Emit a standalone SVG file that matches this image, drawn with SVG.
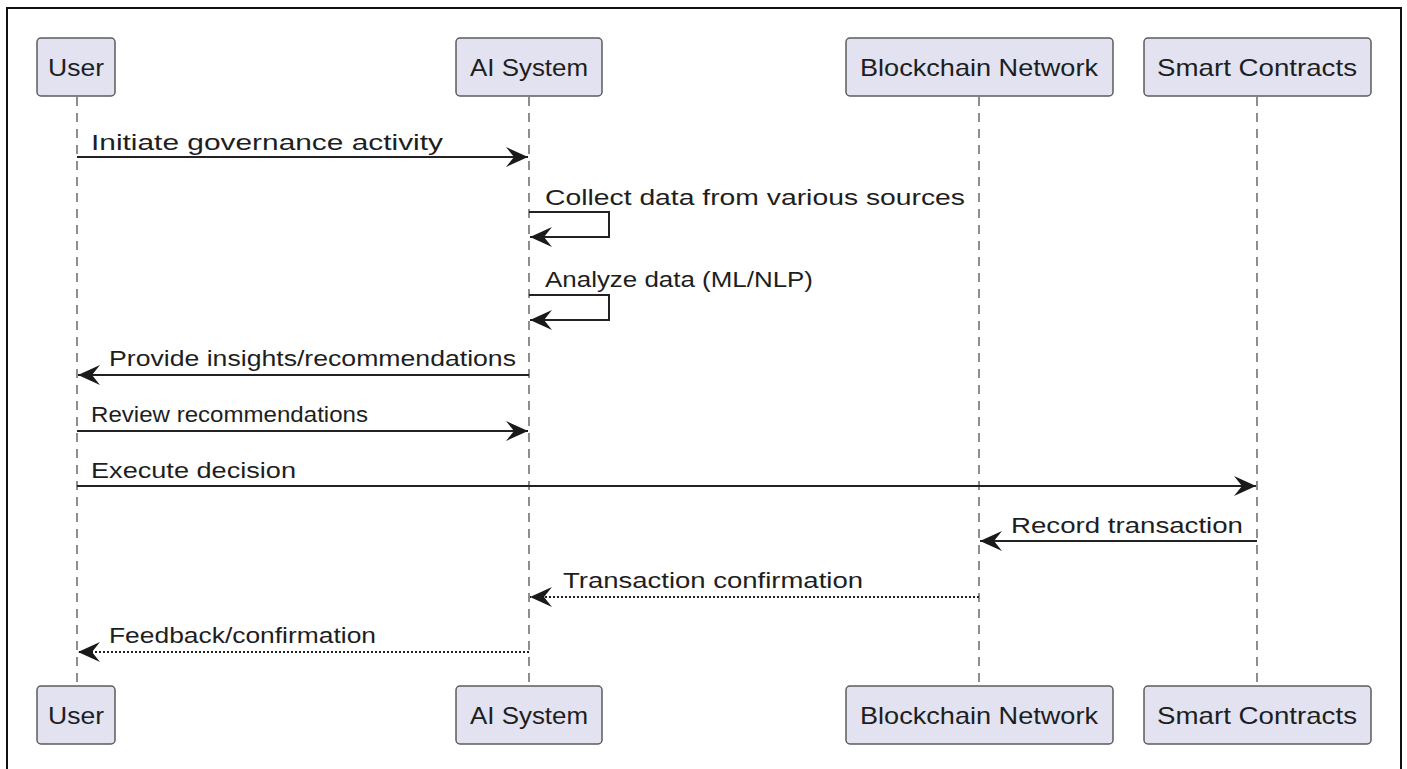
<svg xmlns="http://www.w3.org/2000/svg" width="1407" height="769" viewBox="0 0 1407 769">
<style>
.frame{fill:none;stroke:#111;stroke-width:2}
.box{fill:#E2E2F0;stroke:#5c5c5c;stroke-width:1.5}
.ptxt{font-family:"Liberation Sans",Arial,sans-serif;font-size:24px;fill:#1e1e1e;text-anchor:middle}
.life{stroke:#6a6a6a;stroke-width:1.5;stroke-dasharray:9 7;fill:none}
.msg{stroke:#222;stroke-width:2;fill:none}
.dot{stroke:#222;stroke-width:2;fill:none;stroke-dasharray:2 2}
.mtxt{font-family:"Liberation Sans",Arial,sans-serif;font-size:22px;fill:#1e1e1e}
.head{fill:#1a1a1a;stroke:none}
</style>
<defs>
<marker id="ah" markerUnits="userSpaceOnUse" viewBox="0 0 24 22" refX="23" refY="11" markerWidth="24" markerHeight="22" orient="auto-start-reverse">
<path class="head" d="M1,1 L23,11 L1,21 L9,11 Z"/>
</marker>
</defs>
<rect class="frame" x="7" y="8" width="1394" height="790"/>
<g id="lifelines">
<line class="life" x1="77" y1="97" x2="77" y2="686"/>
<line class="life" x1="529" y1="97" x2="529" y2="686"/>
<line class="life" x1="979" y1="97" x2="979" y2="686"/>
<line class="life" x1="1257" y1="97" x2="1257" y2="686"/>
</g>
<g id="user-top"><rect class="box" x="37" y="38" width="78" height="58" rx="4"/><text class="ptxt" x="76" y="76" textLength="56" lengthAdjust="spacingAndGlyphs">User</text></g>
<g id="ai-top"><rect class="box" x="456" y="38" width="146" height="58" rx="4"/><text class="ptxt" x="529" y="76" textLength="118" lengthAdjust="spacingAndGlyphs">AI System</text></g>
<g id="bc-top"><rect class="box" x="846" y="38" width="267" height="58" rx="4"/><text class="ptxt" x="979" y="76" textLength="238" lengthAdjust="spacingAndGlyphs">Blockchain Network</text></g>
<g id="sc-top"><rect class="box" x="1144" y="38" width="227" height="58" rx="4"/><text class="ptxt" x="1257" y="76" textLength="200" lengthAdjust="spacingAndGlyphs">Smart Contracts</text></g>
<g id="user-bot"><rect class="box" x="37" y="686" width="78" height="58" rx="4"/><text class="ptxt" x="76" y="724" textLength="56" lengthAdjust="spacingAndGlyphs">User</text></g>
<g id="ai-bot"><rect class="box" x="456" y="686" width="146" height="58" rx="4"/><text class="ptxt" x="529" y="724" textLength="118" lengthAdjust="spacingAndGlyphs">AI System</text></g>
<g id="bc-bot"><rect class="box" x="846" y="686" width="267" height="58" rx="4"/><text class="ptxt" x="979" y="724" textLength="238" lengthAdjust="spacingAndGlyphs">Blockchain Network</text></g>
<g id="sc-bot"><rect class="box" x="1144" y="686" width="227" height="58" rx="4"/><text class="ptxt" x="1257" y="724" textLength="200" lengthAdjust="spacingAndGlyphs">Smart Contracts</text></g>
<g id="connectors">
<line class="msg" x1="77" y1="157" x2="528" y2="157" marker-end="url(#ah)"/>
<path class="msg" d="M529,212 H609 V237 H530" marker-end="url(#ah)"/>
<path class="msg" d="M529,295 H609 V320 H530" marker-end="url(#ah)"/>
<line class="msg" x1="529" y1="375" x2="78" y2="375" marker-end="url(#ah)"/>
<line class="msg" x1="77" y1="431" x2="528" y2="431" marker-end="url(#ah)"/>
<line class="msg" x1="77" y1="486" x2="1256" y2="486" marker-end="url(#ah)"/>
<line class="msg" x1="1257" y1="541" x2="980" y2="541" marker-end="url(#ah)"/>
<line class="dot" x1="979" y1="597" x2="530" y2="597" marker-end="url(#ah)"/>
<line class="dot" x1="529" y1="652" x2="78" y2="652" marker-end="url(#ah)"/>
</g>
<g id="labels">
<text class="mtxt" x="91" y="150" textLength="352" lengthAdjust="spacingAndGlyphs">Initiate governance activity</text>
<text class="mtxt" x="545" y="205" textLength="420" lengthAdjust="spacingAndGlyphs">Collect data from various sources</text>
<text class="mtxt" x="545" y="287" textLength="268" lengthAdjust="spacingAndGlyphs">Analyze data (ML/NLP)</text>
<text class="mtxt" x="109" y="366" textLength="407" lengthAdjust="spacingAndGlyphs">Provide insights/recommendations</text>
<text class="mtxt" x="91" y="422" textLength="277" lengthAdjust="spacingAndGlyphs">Review recommendations</text>
<text class="mtxt" x="91" y="478" textLength="205" lengthAdjust="spacingAndGlyphs">Execute decision</text>
<text class="mtxt" x="1011" y="533" textLength="232" lengthAdjust="spacingAndGlyphs">Record transaction</text>
<text class="mtxt" x="563" y="588" textLength="300" lengthAdjust="spacingAndGlyphs">Transaction confirmation</text>
<text class="mtxt" x="109" y="643" textLength="267" lengthAdjust="spacingAndGlyphs">Feedback/confirmation</text>
</g>
</svg>
